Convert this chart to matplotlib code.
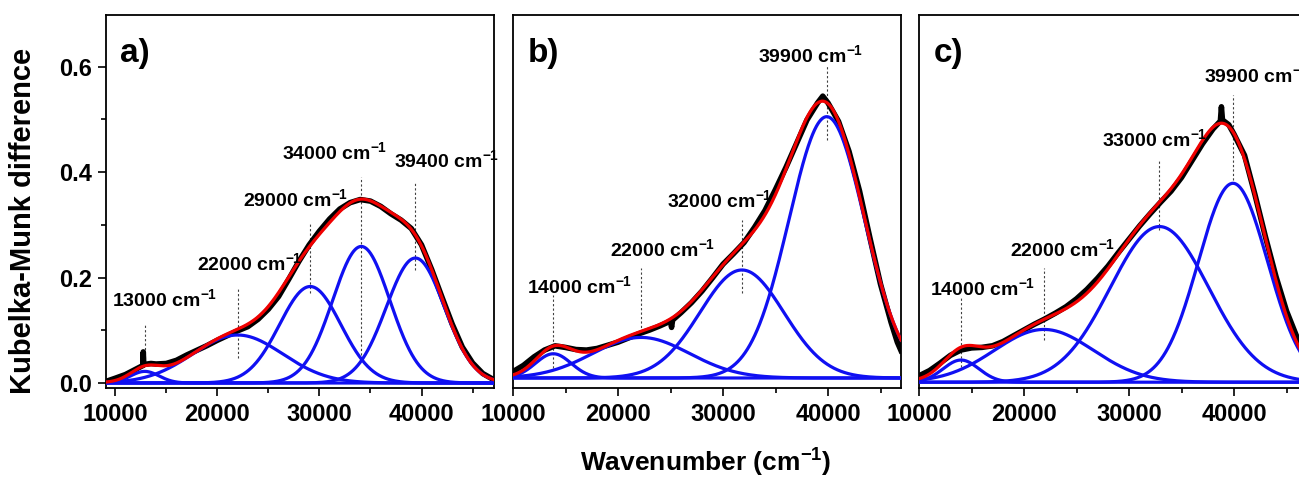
import numpy as np
import matplotlib.pyplot as plt
from matplotlib.ticker import MultipleLocator, FormatStrFormatter

plt.rcParams['font.family'] = ['Liberation Sans', 'DejaVu Sans']
plt.rcParams['font.weight'] = 'bold'
plt.rcParams['mathtext.fontset'] = 'custom'
plt.rcParams['mathtext.rm'] = 'Liberation Sans:bold'
plt.rcParams['mathtext.it'] = 'Liberation Sans:bold'
plt.rcParams['mathtext.bf'] = 'Liberation Sans:bold'

a_wn = [9100, 10000, 11000, 12000, 12700, 12750, 12800, 13500, 14000, 15000, 15500,
        16000, 17000, 18000, 19000, 20000, 21000, 22000, 23000, 24000, 25000, 26000,
        27000, 28000, 29000, 30000, 31000, 32000, 33000, 34000, 35000, 36000, 37000,
        38000, 39000, 40000, 41000, 42000, 43000, 44000, 45000, 46000, 47000]
a_km = [0.003, 0.009, 0.016, 0.026, 0.033, 0.059, 0.035, 0.037, 0.036, 0.037, 0.040,
        0.043, 0.053, 0.062, 0.071, 0.081, 0.090, 0.099, 0.107, 0.121, 0.140, 0.164,
        0.197, 0.231, 0.262, 0.288, 0.311, 0.330, 0.342, 0.348, 0.345, 0.335, 0.321,
        0.309, 0.293, 0.262, 0.215, 0.163, 0.112, 0.068, 0.038, 0.018, 0.007]

b_wn = [10000, 11000, 12000, 13000, 14000, 15000, 16000, 17000, 18000, 19000, 20000,
        21000, 22000, 23000, 24000, 25000, 25100, 25200, 26000, 27000, 28000, 29000,
        30000, 31000, 32000, 33000, 34000, 35000, 36000, 37000, 38000, 39000, 39500,
        40000, 41000, 42000, 43000, 44000, 45000, 46000, 46600, 46950]
b_km = [0.012, 0.024, 0.040, 0.053, 0.061, 0.058, 0.054, 0.053, 0.056, 0.062, 0.068,
        0.076, 0.084, 0.091, 0.099, 0.108, 0.096, 0.110, 0.124, 0.143, 0.165, 0.190,
        0.216, 0.236, 0.257, 0.286, 0.318, 0.358, 0.400, 0.445, 0.490, 0.522, 0.535,
        0.522, 0.487, 0.430, 0.355, 0.265, 0.178, 0.106, 0.068, 0.052]

c_wn = [10000, 11000, 12000, 13000, 14000, 15000, 16000, 17000, 18000, 19000, 20000,
        21000, 22000, 23000, 24000, 25000, 26000, 27000, 28000, 29000, 30000, 31000,
        32000, 33000, 34000, 35000, 36000, 37000, 38000, 38700, 38800, 38900, 39500,
        40000, 41000, 42000, 43000, 44000, 45000, 46000, 46950]
c_km = [0.012, 0.022, 0.036, 0.051, 0.061, 0.065, 0.066, 0.069, 0.077, 0.088, 0.099,
        0.110, 0.120, 0.131, 0.143, 0.158, 0.176, 0.197, 0.220, 0.246, 0.271, 0.296,
        0.319, 0.341, 0.362, 0.388, 0.420, 0.452, 0.480, 0.495, 0.522, 0.497, 0.488,
        0.470, 0.430, 0.355, 0.275, 0.200, 0.135, 0.085, 0.052]

# fitted gaussian bands (blue): centre, height, sigma
a_centres = [12900, 22000, 29100, 34100, 39400]
a_heights = [0.022, 0.091, 0.183, 0.259, 0.237]
a_sigmas = [1400, 4400, 3000, 2800, 2850]
a_labels = ['13000', '22000', '29000', '34000', '39400']

b_centres = [13840, 22200, 31800, 39880]
b_heights = [0.046, 0.077, 0.205, 0.496]
b_sigmas = [1700, 4600, 4000, 3600]
b_labels = ['14000', '22000', '32000', '39900']

c_centres = [14000, 21900, 32900, 39900]
c_heights = [0.042, 0.100, 0.295, 0.377]
c_sigmas = [1700, 4700, 4700, 3300]
c_labels = ['14000', '22000', '33000', '39900']

# layout: label text anchor (left, baseline) and dashed marker span per band
a_text = [(9700, 0.146), (18000, 0.214), (22500, 0.335), (26300, 0.425), (37300, 0.410)]
a_mark = [(0.038, 0.114), (0.047, 0.180), (0.171, 0.304), (0.053, 0.391), (0.214, 0.379)]
b_text = [(11350, 0.162), (19250, 0.232), (24650, 0.325), (33350, 0.599)]
b_mark = [(0.019, 0.157), (0.087, 0.209), (0.161, 0.300), (0.452, 0.594)]
c_text = [(11050, 0.165), (18650, 0.239), (27400, 0.448), (37150, 0.568)]
c_mark = [(0.029, 0.162), (0.080, 0.216), (0.288, 0.421), (0.383, 0.545)]

panels = [
    ('a)', a_wn, a_km, a_centres, a_heights, a_sigmas, a_labels, a_text, a_mark,
     [106, 388], (9100, 47100), (-0.0095, 0.698)),
    ('b)', b_wn, b_km, b_centres, b_heights, b_sigmas, b_labels, b_text, b_mark,
     [513, 388], (10000, 46950), (-0.019, 0.689)),
    ('c)', c_wn, c_km, c_centres, c_heights, c_sigmas, c_labels, c_text, c_mark,
     [919, 388], (10000, 46950), (-0.011, 0.696)),
]

W, H = 1299, 479
fig = plt.figure(figsize=(W / 100, H / 100), dpi=100)

for i, (tag, wn, km, cen, hgt, sig, lab, tpos, mpos, box, xlim, ylim) in enumerate(panels):
    ax = fig.add_axes([box[0] / W, 91 / H, box[1] / W, 373 / H])
    x = np.linspace(xlim[0], xlim[1], 800)
    fit = np.zeros_like(x)
    ax.plot(wn, km, color='black', lw=4.0, zorder=2, solid_joinstyle='round')
    for c, h, s in zip(cen, hgt, sig):
        band = h * np.exp(-0.5 * ((x - c) / s) ** 2)
        fit += band
        ax.plot(x, band, color='#1010f2', lw=2.3, zorder=3)
    ax.plot(x, fit, color='#f00000', lw=2.3, zorder=4)

    for c, lb, (tx, ty), (y0, y1) in zip(cen, lab, tpos, mpos):
        ax.plot([c, c], [y0, y1], color='0.25', lw=0.8, ls=(0, (2, 2)), zorder=1)
        ax.text(tx, ty, lb + ' cm$^{-1}$', fontsize=14, fontweight='bold',
                ha='left', va='baseline', zorder=5, clip_on=False)

    ax.text(0.037, 0.875, tag, transform=ax.transAxes, fontsize=24,
            fontweight='bold', ha='left', va='baseline')

    ax.set_xlim(*xlim)
    ax.set_ylim(*ylim)
    ax.xaxis.set_major_locator(MultipleLocator(10000))
    ax.xaxis.set_minor_locator(MultipleLocator(5000))
    ax.tick_params(axis='x', which='major', direction='out', length=6, width=1.2,
                   labelsize=17, pad=5)
    ax.tick_params(axis='x', which='minor', direction='out', length=3.5, width=1.2)
    if i == 0:
        ax.yaxis.set_major_locator(MultipleLocator(0.2))
        ax.yaxis.set_minor_locator(MultipleLocator(0.1))
        ax.yaxis.set_major_formatter(FormatStrFormatter('%.1f'))
        ax.tick_params(axis='y', which='major', direction='out', length=6, width=1.2,
                       labelsize=17, pad=4)
        ax.tick_params(axis='y', which='minor', direction='out', length=3.5, width=1.2)
    else:
        ax.tick_params(axis='y', which='both', left=False, labelleft=False)
    for lbl in ax.get_xticklabels() + ax.get_yticklabels():
        lbl.set_fontweight('bold')
    for sp in ax.spines.values():
        sp.set_linewidth(1.3)

fig.text(23 / W, 1 - 221 / H, 'Kubelka-Munk difference', rotation=90,
         ha='center', va='center', fontsize=21, fontweight='bold')
fig.text(706 / W, 1 - 463 / H, 'Wavenumber (cm$^{-1}$)', ha='center', va='center',
         fontsize=19, fontweight='bold')

fig.savefig('out.png', dpi=100)
